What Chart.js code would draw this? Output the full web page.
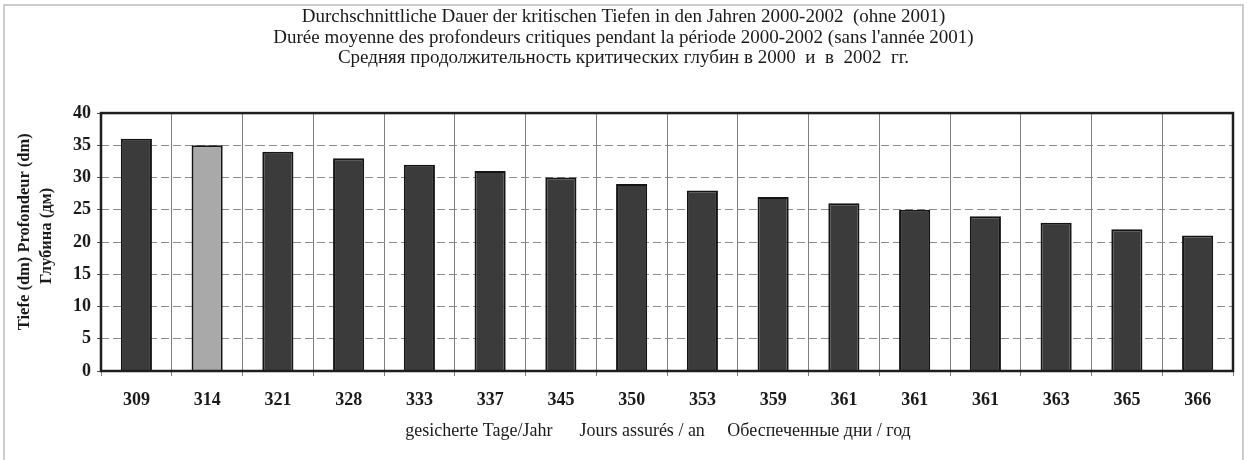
<!DOCTYPE html>
<html>
<head>
<meta charset="utf-8">
<script src="https://cdn.jsdelivr.net/npm/chart.js@4/dist/chart.umd.min.js"></script>
<style>
  html, body { margin: 0; padding: 0; background: #fff; }
  #wrap { width: 1247px; height: 460px; position: relative; }
</style>
</head>
<body>
<div id="wrap"><canvas id="depth-chart"></canvas></div>
<script>
// Days per year secured for each critical depth
const days = ['309', '314', '321', '328', '333', '337', '345', '350', '353', '359', '361', '361', '361', '363', '365', '366'];
const depthDm = [36, 35, 34, 33, 32, 31, 30, 29, 28, 27, 26, 25, 24, 23, 22, 21];
const highlighted = 1;   // the one bar drawn in light grey

const titleLines = [
  'Durchschnittliche Dauer der kritischen Tiefen in den Jahren 2000-2002  (ohne 2001)',
  "Durée moyenne des profondeurs critiques pendant la période 2000-2002 (sans l'année 2001)",
  'Средняя продолжительность критических глубин в 2000  и  в  2002  гг.',
];
// leading / trailing blanks nudge the axis titles off the plot centre
const yTitle = ['     Tiefe (dm) Profondeur (dm)', '   Глубина (дм)'];
const xTitle = 'gesicherte Tage/Jahr      Jours assurés / an     Обеспеченные дни / год    ';

const SERIF = '"Liberation Serif", "Times New Roman", serif';

// thin grey frame round the whole figure, heavy frame round the plot
const frames = {
  id: 'frames',
  beforeDraw(chart) {
    const { ctx } = chart;
    ctx.save();
    ctx.strokeStyle = '#bdbdbd';
    ctx.lineWidth = 1.5;
    ctx.strokeRect(4, 5, chart.width - 8, chart.height + 10);
    ctx.restore();
  },
  afterDatasetsDraw(chart) {
    const { ctx, chartArea: a } = chart;
    ctx.save();
    ctx.strokeStyle = '#1e1e1e';
    ctx.lineWidth = 2.5;
    ctx.strokeRect(a.left, a.top, a.right - a.left, a.bottom - a.top);
    ctx.restore();
  },
};

new Chart(document.getElementById('depth-chart'), {
  type: 'bar',
  data: {
    labels: days,
    datasets: [{
      data: depthDm,
      backgroundColor: depthDm.map((_, i) => (i === highlighted ? '#a9a9a9' : '#3b3b3b')),
      borderColor: '#141414',
      borderWidth: 2,
      barPercentage: 0.44,
      categoryPercentage: 1,
    }],
  },
  options: {
    responsive: true,
    maintainAspectRatio: false,
    animation: false,
    layout: { padding: { left: 14, right: 14, top: 0, bottom: 0 } },
    plugins: {
      legend: { display: false },
      tooltip: { enabled: false },
      title: {
        display: true,
        text: titleLines,
        color: '#1a1a1a',
        font: { family: SERIF, size: 19, weight: 'normal', lineHeight: 1.08 },
        padding: { top: 7, bottom: 44.5 },
      },
    },
    scales: {
      x: {
        afterFit(scale) { scale.height = 89; },
        grid: { color: '#7e7e7e', lineWidth: 1, tickLength: 5, offset: true },
        border: { display: false },
        ticks: { color: '#1a1a1a', padding: 14, font: { family: SERIF, size: 18, weight: 'bold' } },
        title: {
          display: true,
          text: xTitle,
          color: '#1a1a1a',
          font: { family: SERIF, size: 18, weight: 'normal', lineHeight: 1.2 },
          padding: { top: 0, bottom: 18 },
        },
      },
      y: {
        min: 0,
        max: 40,
        afterFit(scale) { scale.width = 87; },
        grid: { color: '#8c8c8c', lineWidth: 1, tickLength: 4, tickColor: '#555' },
        border: { display: false, dash: [8, 4] },
        ticks: { stepSize: 5, color: '#1a1a1a', padding: 6, font: { family: SERIF, size: 18, weight: 'bold' } },
        title: {
          display: true,
          text: yTitle,
          color: '#1a1a1a',
          font: { family: SERIF, size: 16.5, weight: 'bold', lineHeight: 1.33 },
          padding: { top: 0 },
        },
      },
    },
  },
  plugins: [frames],
});
</script>
</body>
</html>
